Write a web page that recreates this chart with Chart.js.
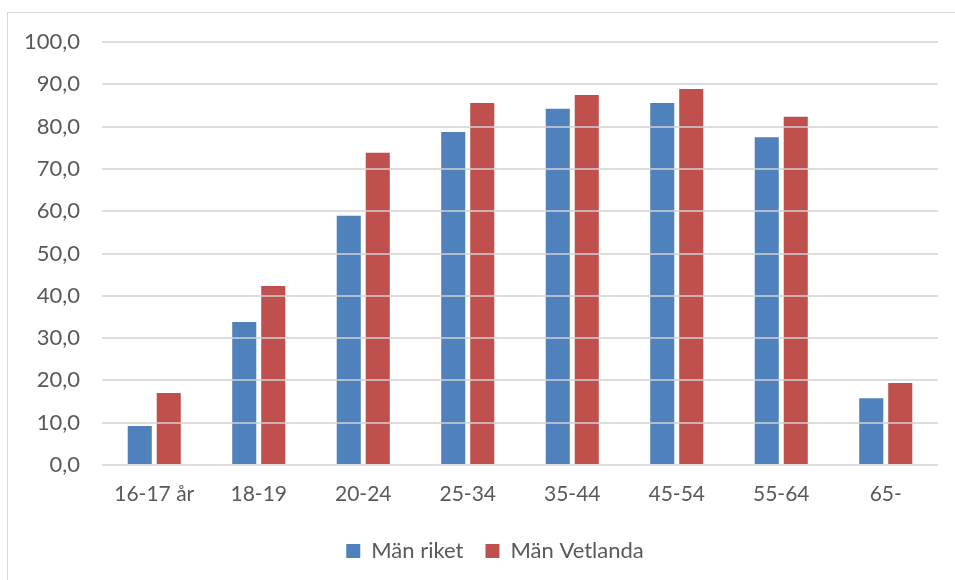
<!DOCTYPE html>
<html>
<head>
<meta charset="utf-8">
<script src="https://cdn.jsdelivr.net/npm/chart.js@4"></script>
<style>
  html, body { margin: 0; padding: 0; background: #fff; }
  #wrap { position: relative; width: 955px; height: 580px; overflow: hidden; }
  #frame { position: absolute; left: 7px; top: 12px; width: 1000px; height: 1000px; border: 1px solid #d9d9d9; box-sizing: border-box; }
  canvas { position: absolute; left: 0; top: 0; }
</style>
</head>
<body>
<div id="wrap">
  <div id="frame"></div>
  <canvas id="myChart" width="955" height="580"></canvas>
</div>
<script>
// age groups on the x axis
const categories = ['16-17 år', '18-19', '20-24', '25-34', '35-44', '45-54', '55-64', '65-'];
// share in percent
const manRiket = [9.2, 33.8, 58.9, 78.7, 84.2, 85.6, 77.5, 15.8];
const manVetlanda = [17.0, 42.3, 73.8, 85.6, 87.5, 88.9, 82.3, 19.4];
const yTicks = [0, 10, 20, 30, 40, 50, 60, 70, 80, 90, 100];

const textColor = '#595959';
const fontFamily = 'Lato, "Open Sans", sans-serif';

// the legend in the original sits a bit right of the canvas centre
const legendShift = {
  id: 'legendShift',
  afterLayout(chart) {
    chart.legend.left += 26;
    chart.legend.right += 26;
  }
};

var myChart = new Chart('myChart', {
  type: 'bar',
  data: {
    labels: categories,
    datasets: [{
      label: 'Män riket',
      backgroundColor: '#4f81bd',
      data: manRiket
    }, {
      label: 'Män Vetlanda',
      backgroundColor: '#c0504d',
      data: manVetlanda
    }]
  },
  options: {
    responsive: false,
    animation: false,
    categoryPercentage: 0.555,
    barPercentage: 0.83,
    layout: { padding: { left: 0, right: 17, top: 42, bottom: 8 } },
    scales: {
      x: {
        grid: { display: false },
        border: { display: false },
        ticks: { color: textColor, font: { family: fontFamily, size: 21 }, padding: 9, maxRotation: 0 },
        afterFit: function(scale) { scale.height = 53; }
      },
      y: {
        min: 0,
        max: 100,
        afterBuildTicks: function(scale) { scale.ticks = yTicks.map(v => ({ value: v })); },
        grid: { color: 'rgba(210,210,210,0.75)', lineWidth: 2, drawTicks: false, z: 1 },
        border: { display: false },
        ticks: {
          color: textColor,
          font: { family: fontFamily, size: 22 },
          padding: 22,
          callback: function(v) { return v.toFixed(1).replace('.', ','); }
        },
        afterFit: function(scale) { scale.width = 102; }
      }
    },
    plugins: {
      legend: {
        display: true,
        position: 'bottom',
        maxHeight: 56,
        labels: {
          color: textColor,
          font: { family: fontFamily, size: 22 },
          boxWidth: 14,
          boxHeight: 14,
          padding: 22
        }
      },
      tooltip: { enabled: false }
    }
  },
  plugins: [legendShift]
});
</script>
</body>
</html>
